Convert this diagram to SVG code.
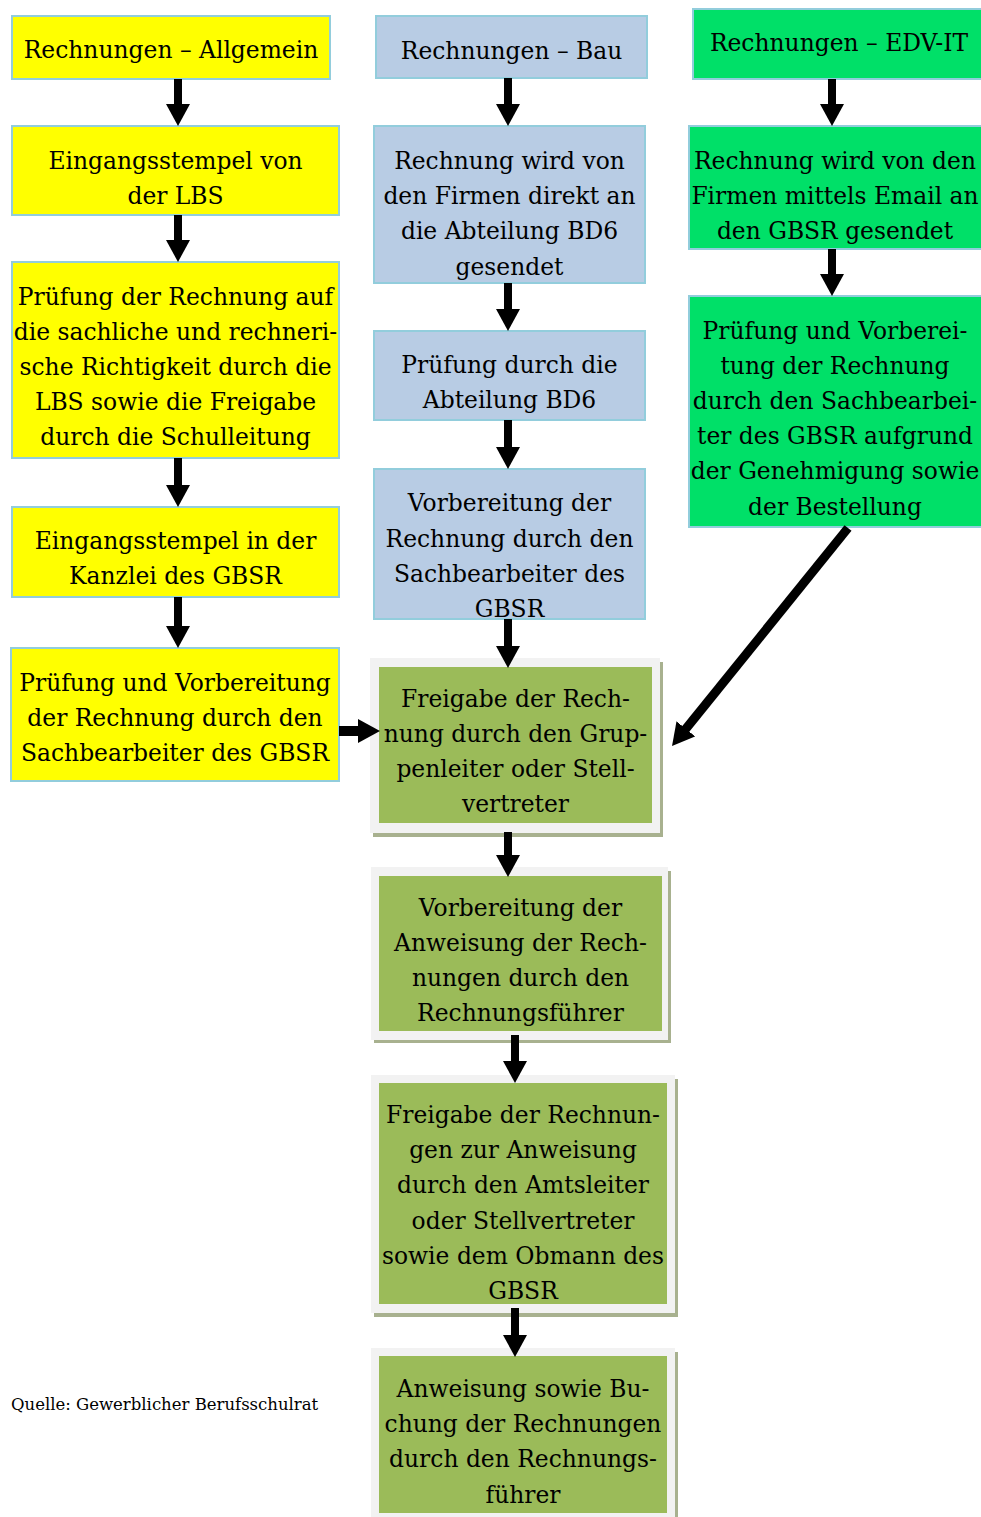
<svg xmlns="http://www.w3.org/2000/svg" width="981" height="1517" viewBox="0 0 981 1517">
<style>
text{font-family:"DejaVu Serif","Liberation Serif",serif;font-size:23.4px;fill:#000;text-anchor:middle}
.q{font-size:16.5px;text-anchor:start}
.y{fill:#ffff00;stroke:#92cddc;stroke-width:2}
.b{fill:#b8cce4;stroke:#92cddc;stroke-width:2}
.g{fill:#00e068;stroke:#92cddc;stroke-width:2}
.ol{fill:#9bbb59}
.gr{fill:#f2f2f2}
.sh{fill:#a8b18f}
.c line{stroke:#000;stroke-width:8;marker-end:url(#ah)}
</style>
<defs>
<marker id="ah" markerUnits="userSpaceOnUse" markerWidth="22" markerHeight="24" viewBox="0 0 22 24" refX="2" refY="12" orient="auto"><path d="M0,0 L22,12 L0,24 z" fill="#000"/></marker>
</defs>
<rect width="981" height="1517" fill="#fff"/>
<g id="y1"><rect class="y" x="12" y="16" width="318" height="63"/><text x="171" y="58">Rechnungen – Allgemein</text></g>
<g id="y2"><rect class="y" x="12" y="126" width="327" height="89"/><text x="175.5" y="169">Eingangsstempel von</text><text x="175.5" y="204">der LBS</text></g>
<g id="y3"><rect class="y" x="12" y="262" width="327" height="196"/><text x="175.5" y="305">Prüfung der Rechnung auf</text><text x="175.5" y="340">die sachliche und rechneri-</text><text x="175.5" y="375">sche Richtigkeit durch die</text><text x="175.5" y="410">LBS sowie die Freigabe</text><text x="175.5" y="445">durch die Schulleitung</text></g>
<g id="y4"><rect class="y" x="12" y="507" width="327" height="90"/><text x="175.5" y="549">Eingangsstempel in der</text><text x="175.5" y="584">Kanzlei des GBSR</text></g>
<g id="y5"><rect class="y" x="11" y="648" width="328" height="133"/><text x="175" y="691">Prüfung und Vorbereitung</text><text x="175" y="726">der Rechnung durch den</text><text x="175" y="761">Sachbearbeiter des GBSR</text></g>
<g id="b1"><rect class="b" x="376" y="16" width="271" height="62"/><text x="511.5" y="59">Rechnungen – Bau</text></g>
<g id="b2"><rect class="b" x="374" y="126" width="271" height="157"/><text x="509.5" y="169">Rechnung wird von</text><text x="509.5" y="204">den Firmen direkt an</text><text x="509.5" y="239">die Abteilung BD6</text><text x="509.5" y="275">gesendet</text></g>
<g id="b3"><rect class="b" x="374" y="331" width="271" height="89"/><text x="509.5" y="373">Prüfung durch die</text><text x="509.5" y="408">Abteilung BD6</text></g>
<g id="b4"><rect class="b" x="374" y="469" width="271" height="150"/><text x="509.5" y="511">Vorbereitung der</text><text x="509.5" y="547">Rechnung durch den</text><text x="509.5" y="582">Sachbearbeiter des</text><text x="509.5" y="617">GBSR</text></g>
<g id="g1"><rect class="g" x="693" y="9" width="290" height="70"/><text x="839" y="51">Rechnungen – EDV-IT</text></g>
<g id="g2"><rect class="g" x="689" y="126" width="294" height="123"/><text x="835" y="169">Rechnung wird von den</text><text x="835" y="204">Firmen mittels Email an</text><text x="835" y="239">den GBSR gesendet</text></g>
<g id="g3"><rect class="g" x="689" y="296" width="294" height="231"/><text x="835" y="339">Prüfung und Vorberei-</text><text x="835" y="374">tung der Rechnung</text><text x="835" y="409">durch den Sachbearbei-</text><text x="835" y="444">ter des GBSR aufgrund</text><text x="835" y="479">der Genehmigung sowie</text><text x="835" y="515">der Bestellung</text></g>
<g id="o1"><rect class="sh" x="373" y="662" width="290" height="175"/><rect class="gr" x="370" y="658" width="290" height="175"/><rect class="ol" x="379" y="667" width="273" height="156"/><text x="515.5" y="707">Freigabe der Rech-</text><text x="515.5" y="742">nung durch den Grup-</text><text x="515.5" y="777">penleiter oder Stell-</text><text x="515.5" y="812">vertreter</text></g>
<g id="o2"><rect class="sh" x="374" y="871" width="297" height="172"/><rect class="gr" x="371" y="867" width="297" height="173"/><rect class="ol" x="379" y="876" width="283" height="155"/><text x="520.5" y="916">Vorbereitung der</text><text x="520.5" y="951">Anweisung der Rech-</text><text x="520.5" y="986">nungen durch den</text><text x="520.5" y="1021">Rechnungsführer</text></g>
<g id="o3"><rect class="sh" x="374" y="1079" width="304" height="238"/><rect class="gr" x="371" y="1075" width="304" height="238"/><rect class="ol" x="379" y="1083" width="288" height="221"/><text x="523" y="1123">Freigabe der Rechnun-</text><text x="523" y="1158">gen zur Anweisung</text><text x="523" y="1193">durch den Amtsleiter</text><text x="523" y="1229">oder Stellvertreter</text><text x="523" y="1264">sowie dem Obmann des</text><text x="523" y="1299">GBSR</text></g>
<g id="o4"><rect class="sh" x="374" y="1352" width="304" height="170"/><rect class="gr" x="371" y="1348" width="304" height="170"/><rect class="ol" x="379" y="1356" width="288" height="157"/><text x="523" y="1397">Anweisung sowie Bu-</text><text x="523" y="1432">chung der Rechnungen</text><text x="523" y="1467">durch den Rechnungs-</text><text x="523" y="1503">führer</text></g>
<g id="src"><text class="q" x="11" y="1410">Quelle: Gewerblicher Berufsschulrat</text></g>
<g id="connectors" class="c">
<line x1="178" y1="79" x2="178" y2="106"/>
<line x1="178" y1="215" x2="178" y2="242"/>
<line x1="178" y1="458" x2="178" y2="487"/>
<line x1="178" y1="597" x2="178" y2="628"/>
<line x1="339" y1="731" x2="360" y2="731" style="stroke-width:10"/>
<line x1="508" y1="78" x2="508" y2="106"/>
<line x1="508" y1="283" x2="508" y2="311"/>
<line x1="508" y1="420" x2="508" y2="449"/>
<line x1="508" y1="619" x2="508" y2="648"/>
<line x1="832" y1="79" x2="832" y2="106"/>
<line x1="832" y1="249" x2="832" y2="276"/>
<line x1="848" y1="528" x2="684.6" y2="730.4" style="stroke-width:9"/>
<line x1="508" y1="832" x2="508" y2="857"/>
<line x1="515" y1="1035" x2="515" y2="1063"/>
<line x1="515" y1="1308" x2="515" y2="1337"/>
</g>
</svg>
